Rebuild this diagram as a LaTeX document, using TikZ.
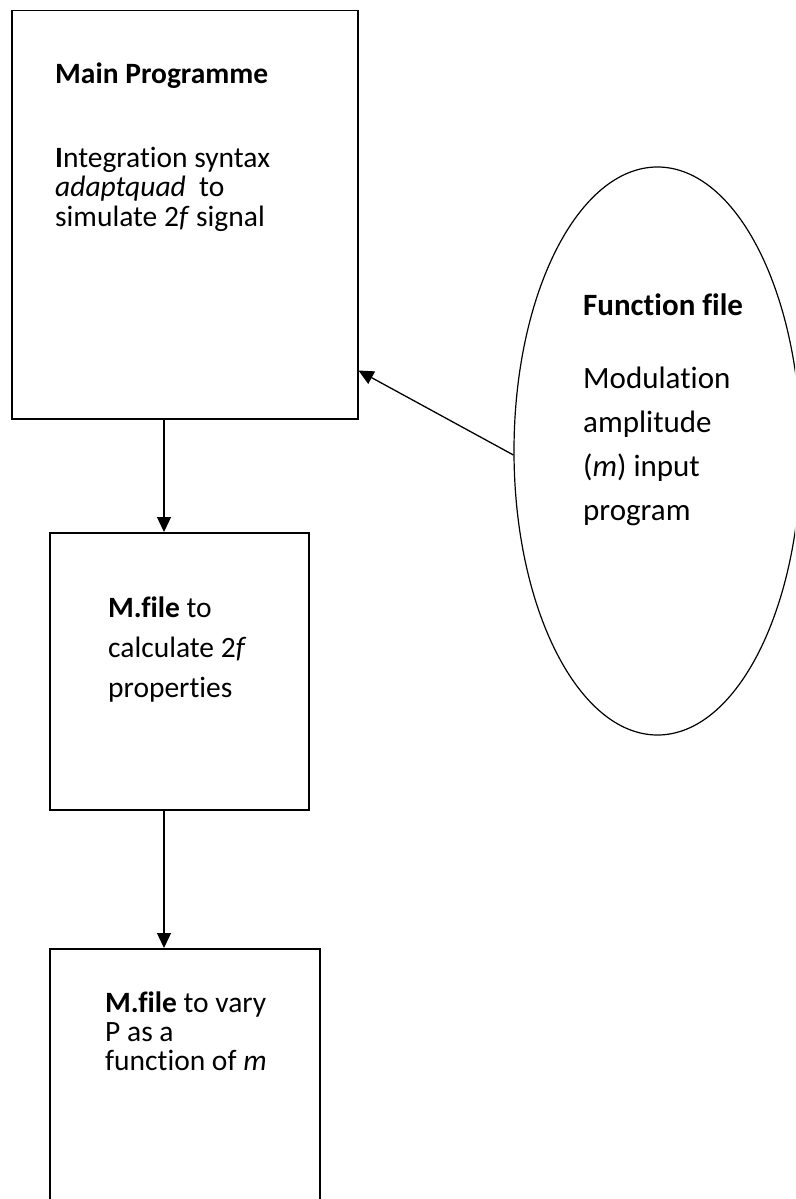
\documentclass[tikz,border=0pt]{standalone}
\usepackage{fontspec}
\setmainfont[Ligatures={TeX,NoCommon}]{Carlito}
\usetikzlibrary{arrows.meta,shapes.geometric}
\tikzset{
  boxnode/.style={draw=black, line width=1.5pt, inner sep=0pt, anchor=north west},
  ovalnode/.style={draw=black, line width=1.2pt, ellipse, inner sep=0pt},
  txt/.style={anchor=base west, inner sep=0pt, font=\fontsize{29.5}{30}\selectfont},
  otxt/.style={anchor=base west, inner sep=0pt, font=\fontsize{31}{33}\selectfont},
  conn/.style={line width=1.3pt, -{Triangle[length=15pt,width=14pt]}},
}
\begin{document}
\begin{tikzpicture}[x=1pt,y=-1pt]
\useasboundingbox (0,0) rectangle (795,1199);
\clip (0,0) rectangle (795,1199);
\fill[white] (0,0) rectangle (795,1199);

% boxes
\node[boxnode, minimum width=346pt, minimum height=408pt] (main) at (11,10) {};
\node[boxnode, minimum width=259pt, minimum height=277pt] (mf1) at (49,532) {};
\node[boxnode, minimum width=270pt, minimum height=300pt] (mf2) at (49,948) {};
\node[ovalnode, minimum width=287pt, minimum height=568pt] (ff) at (657.5,451) {};

% texts in main box
\node[txt] (m0) at (55,84) {\textbf{Main Programme}};
\node[txt] (m1) at (55,167) {\textbf{I}ntegration syntax};
\node[txt] (m2) at (55,196) {\textit{adaptquad}\ \ to};
\node[txt] (m3) at (55,226) {simulate 2\textit{f} signal};

% texts in first M.file box
\node[txt] (a1) at (108,617) {\textbf{M.file} to};
\node[txt] (a2) at (108,657) {calculate 2\textit{f}};
\node[txt] (a3) at (108,697) {properties};

% texts in second M.file box
\node[txt] (b1) at (105,1012) {\textbf{M.file} to vary};
\node[txt] (b2) at (105,1041) {P as a};
\node[txt] (b3) at (105,1070) {function of \textit{m}};

% texts in ellipse
\node[otxt] (f0) at (583,315) {\textbf{Function file}};
\node[otxt] (f1) at (583,388) {Modulation};
\node[otxt] (f2) at (583,432) {amplitude};
\node[otxt] (f3) at (583,476) {(\textit{m}) input};
\node[otxt] (f4) at (583,520) {program};

% connectors
\coordinate (mainin) at ([yshift=49pt]main.south east);
\draw[conn] (main.south -| 164,0) -- (mf1.north -| 164,0);
\draw[conn] (mf1.south -| 164,0) -- (mf2.north -| 164,0);
\draw[conn] ([yshift=-4pt]ff.west) -- (mainin);
\end{tikzpicture}
\end{document}
